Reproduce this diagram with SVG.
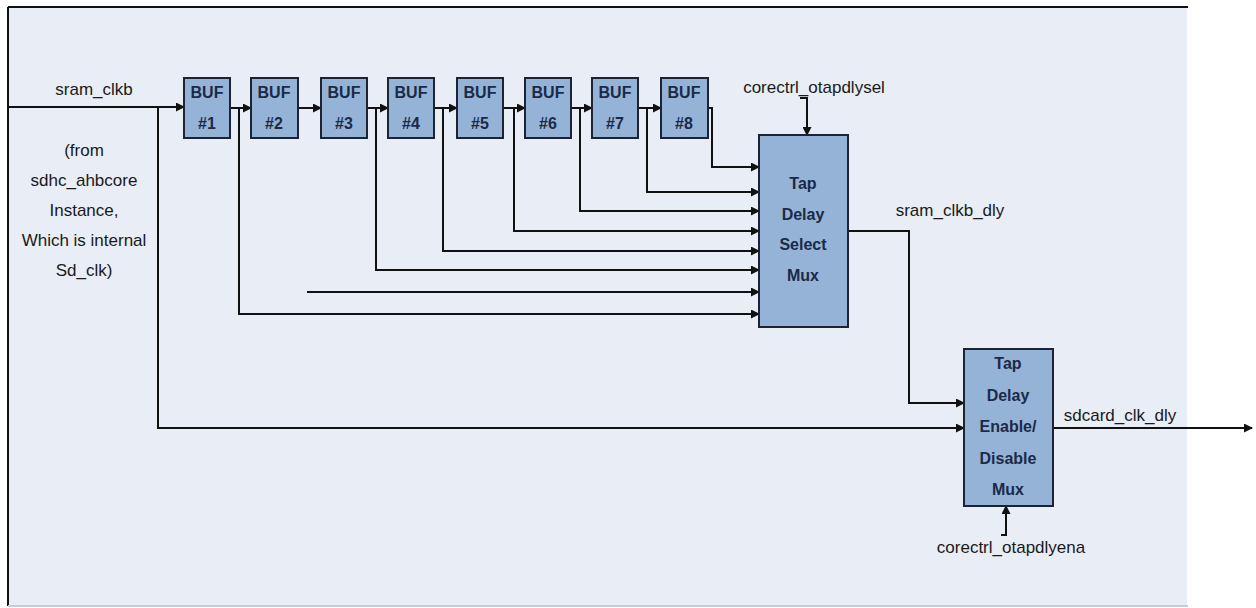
<svg xmlns="http://www.w3.org/2000/svg" width="1256" height="608" viewBox="0 0 1256 608">
<defs>
<marker id="arr" markerWidth="9" markerHeight="9" refX="8" refY="4.5" orient="auto" markerUnits="userSpaceOnUse">
<path d="M0,0 L9,4.5 L0,9 Z" fill="#111"/>
</marker>
<style>
.bg{fill:#e9edf6}
.box{fill:#95b3d7;stroke:#1c2433;stroke-width:2}
.w{fill:none;stroke:#111;stroke-width:2}
.bt{font-family:"Liberation Sans",Arial,sans-serif;font-size:16px;font-weight:bold;fill:#1b2a47;text-anchor:middle}
.lb{font-family:"Liberation Sans",Arial,sans-serif;font-size:17px;fill:#1a1a1a;text-anchor:middle}
</style>
</defs>
<rect x="0" y="0" width="1256" height="608" fill="#fff"/>
<rect class="bg" x="8" y="7" width="1179" height="598"/>
<line x1="8" y1="7" x2="1188" y2="7" stroke="#111" stroke-width="2"/>
<line x1="8" y1="7" x2="8" y2="606" stroke="#111" stroke-width="2"/>
<line x1="8" y1="606" x2="1188" y2="606" stroke="#c8ccd4" stroke-width="2"/>

<g id="connectors">
<path class="w" d="M8,107 H184" marker-end="url(#arr)"/>
<path class="w" d="M230,108 H251" marker-end="url(#arr)"/>
<path class="w" d="M298,108 H321" marker-end="url(#arr)"/>
<path class="w" d="M367,108 H388" marker-end="url(#arr)"/>
<path class="w" d="M434,108 H457" marker-end="url(#arr)"/>
<path class="w" d="M503,108 H525" marker-end="url(#arr)"/>
<path class="w" d="M571,108 H592" marker-end="url(#arr)"/>
<path class="w" d="M638,108 H661" marker-end="url(#arr)"/>
<path class="w" d="M708,108 H712 V167 H759" marker-end="url(#arr)"/>
<path class="w" d="M647,108 V192 H759" marker-end="url(#arr)"/>
<path class="w" d="M580,108 V211 H759" marker-end="url(#arr)"/>
<path class="w" d="M514,108 V231 H759" marker-end="url(#arr)"/>
<path class="w" d="M443,108 V251 H759" marker-end="url(#arr)"/>
<path class="w" d="M376,108 V270 H759" marker-end="url(#arr)"/>
<path class="w" d="M307,292 H759" marker-end="url(#arr)"/>
<path class="w" d="M239,108 V314 H759" marker-end="url(#arr)"/>
<path class="w" d="M158,107 V428 H964" marker-end="url(#arr)"/>
<path class="w" d="M848,231 H909 V403 H964" marker-end="url(#arr)"/>
<path class="w" d="M1053,428 H1252" marker-end="url(#arr)"/>
<path class="w" d="M800,98 H807 V135" marker-end="url(#arr)"/>
<path class="w" d="M1001,535 H1006 V506" marker-end="url(#arr)"/>
</g>

<g id="buf1"><rect class="box" x="184" y="78" width="46" height="60"/><text class="bt" x="207" y="98">BUF</text><text class="bt" x="207" y="129">#1</text></g>
<g id="buf2"><rect class="box" x="251" y="78" width="47" height="60"/><text class="bt" x="274" y="98">BUF</text><text class="bt" x="274" y="129">#2</text></g>
<g id="buf3"><rect class="box" x="321" y="78" width="46" height="60"/><text class="bt" x="344" y="98">BUF</text><text class="bt" x="344" y="129">#3</text></g>
<g id="buf4"><rect class="box" x="388" y="78" width="46" height="60"/><text class="bt" x="411" y="98">BUF</text><text class="bt" x="411" y="129">#4</text></g>
<g id="buf5"><rect class="box" x="457" y="78" width="46" height="60"/><text class="bt" x="480" y="98">BUF</text><text class="bt" x="480" y="129">#5</text></g>
<g id="buf6"><rect class="box" x="525" y="78" width="46" height="60"/><text class="bt" x="548" y="98">BUF</text><text class="bt" x="548" y="129">#6</text></g>
<g id="buf7"><rect class="box" x="592" y="78" width="46" height="60"/><text class="bt" x="615" y="98">BUF</text><text class="bt" x="615" y="129">#7</text></g>
<g id="buf8"><rect class="box" x="661" y="78" width="47" height="60"/><text class="bt" x="684" y="98">BUF</text><text class="bt" x="684" y="129">#8</text></g>

<g id="mux1"><rect class="box" x="759" y="135" width="89" height="192"/>
<text class="bt" x="803" y="189">Tap</text><text class="bt" x="803" y="220">Delay</text><text class="bt" x="803" y="250">Select</text><text class="bt" x="803" y="281">Mux</text></g>

<g id="mux2"><rect class="box" x="964" y="349" width="89" height="157"/>
<text class="bt" x="1008" y="369">Tap</text><text class="bt" x="1008" y="401">Delay</text><text class="bt" x="1008" y="432">Enable/</text><text class="bt" x="1008" y="464">Disable</text><text class="bt" x="1008" y="495">Mux</text></g>

<g id="labels">
<text class="lb" x="94" y="95">sram_clkb</text>
<text class="lb" x="84" y="156">(from</text>
<text class="lb" x="84" y="186">sdhc_ahbcore</text>
<text class="lb" x="84" y="216">Instance,</text>
<text class="lb" x="84" y="246">Which is internal</text>
<text class="lb" x="84" y="276">Sd_clk)</text>
<text class="lb" x="814" y="93">corectrl_otapdlysel</text>
<text class="lb" x="950" y="216">sram_clkb_dly</text>
<text class="lb" x="1120" y="421">sdcard_clk_dly</text>
<text class="lb" x="1011" y="553">corectrl_otapdlyena</text>
</g>
</svg>
